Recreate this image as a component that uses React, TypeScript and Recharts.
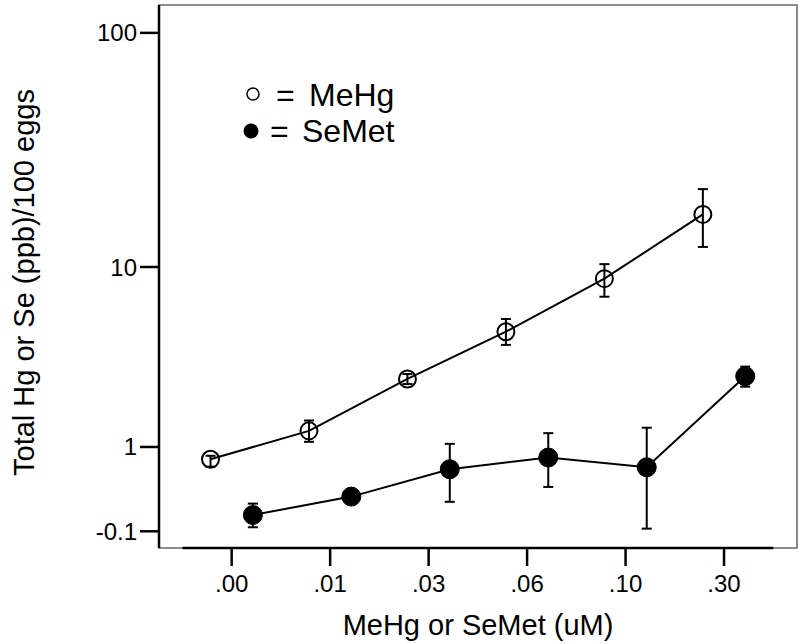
import React from 'react';
import {
  LineChart,
  Line,
  XAxis,
  YAxis,
  ErrorBar,
  ReferenceArea,
  ReferenceLine,
  Label,
} from 'recharts';

// Concentration categories on the x axis
const categories = ['.00', '.01', '.03', '.06', '.10', '.30'];

// MeHg (open circles): mean and error bounds, ppb / 100 eggs
const meHgMean = [0.78, 1.33, 2.81, 4.96, 8.85, 17.1];
const meHgLow = [0.66, 1.1, 2.63, 4.26, 7.3, 12.3];
const meHgHigh = [0.84, 1.57, 2.99, 5.72, 10.3, 22.0];

// SeMet (filled circles)
const seMetMean = [0.05, 0.25, 0.62, 0.81, 0.65, 2.91];
const seMetLow = [-0.065, 0.25, 0.19, 0.37, -0.077, 2.54];
const seMetHigh = [0.17, 0.25, 1.06, 1.28, 1.4, 3.28];

// y tick labels as printed on the original axis
const yTicks = [100, 10, 1, -0.1];

const FONT = '"Liberation Sans", Arial, sans-serif';
const DODGE = 0.215;

// the original axis is log10(value + 1)
const toAxis = (v: number) => Math.log10(v + 1);

const buildSeries = (mean: number[], low: number[], high: number[], shift: number) =>
  mean.map((m, i) => ({
    x: i + shift,
    y: toAxis(m),
    err: [toAxis(m) - toAxis(low[i]), toAxis(high[i]) - toAxis(m)],
  }));

const meHgData = buildSeries(meHgMean, meHgLow, meHgHigh, -DODGE);
const seMetData = buildSeries(seMetMean, seMetLow, seMetHigh, DODGE);

const X_DOMAIN: [number, number] = [-0.738, 5.741];
const Y_DOMAIN: [number, number] = [-0.1145, 2.119];

const yTickLabel = (v: number) => {
  const hit = yTicks.find((t) => Math.abs(toAxis(t) - v) < 1e-6);
  return hit === undefined ? '' : String(hit);
};

const OpenDot = (props: any) => (
  <circle key={`o-${props.index}`} cx={props.cx} cy={props.cy} r={8.5} fill="none" stroke="#000" strokeWidth={2} />
);

const FilledDot = (props: any) => (
  <circle key={`f-${props.index}`} cx={props.cx} cy={props.cy} r={9.5} fill="#000" stroke="#000" strokeWidth={1} />
);

export default function App() {
  return (
    <div style={{ position: 'absolute', left: 0, top: 0, width: 800, height: 644, background: '#fff' }}>
      <LineChart width={800} height={644} margin={{ top: 5, right: 3, bottom: 0, left: 0 }}>
        {/* plot frame */}
        <ReferenceArea
          x1={X_DOMAIN[0]}
          x2={X_DOMAIN[1]}
          y1={Y_DOMAIN[0]}
          y2={Y_DOMAIN[1]}
          fill="none"
          stroke="#666"
          strokeWidth={1.5}
          ifOverflow="visible"
        />
        <XAxis
          type="number"
          dataKey="x"
          domain={X_DOMAIN}
          ticks={[0, 1, 2, 3, 4, 5]}
          tickFormatter={(i: number) => categories[i] ?? ''}
          allowDataOverflow
          axisLine={false}
          tickLine={{ stroke: '#000', strokeWidth: 2.5 }}
          tickSize={18}
          tickMargin={9}
          height={96}
          tick={{ fill: '#000', fontSize: 24, fontFamily: FONT }}
        >
          <Label
            value="MeHg or SeMet (uM)"
            position="insideBottom"
            offset={9}
            style={{ fill: '#000', fontSize: 29, fontFamily: FONT }}
          />
        </XAxis>
        <YAxis
          type="number"
          domain={Y_DOMAIN}
          ticks={yTicks.map(toAxis)}
          tickFormatter={yTickLabel}
          allowDataOverflow
          axisLine={{ stroke: '#000', strokeWidth: 2.5 }}
          tickLine={{ stroke: '#000', strokeWidth: 2.5 }}
          tickSize={19}
          tickMargin={3}
          width={159}
          tick={{ fill: '#000', fontSize: 24, fontFamily: FONT }}
        >
          <Label
            content={({ viewBox }: any) => {
              const cx = 34;
              const cy = viewBox.y + viewBox.height / 2 + 6;
              return (
                <text
                  x={cx}
                  y={cy}
                  transform={`rotate(-90 ${cx} ${cy})`}
                  textAnchor="middle"
                  fill="#000"
                  fontSize={29}
                  fontFamily={FONT}
                >
                  Total Hg or Se (ppb)/100 eggs
                </text>
              );
            }}
          />
        </YAxis>
        {/* x axis line spans only the category bands */}
        <ReferenceLine
          segment={[
            { x: -0.5, y: Y_DOMAIN[0] },
            { x: 5.5, y: Y_DOMAIN[0] },
          ]}
          stroke="#000"
          strokeWidth={2.5}
          ifOverflow="visible"
        />
        <Line
          data={meHgData}
          dataKey="y"
          stroke="#000"
          strokeWidth={2}
          dot={OpenDot}
          activeDot={false}
          isAnimationActive={false}
        >
          <ErrorBar dataKey="err" direction="y" width={5} stroke="#000" strokeWidth={2} />
        </Line>
        <Line
          data={seMetData}
          dataKey="y"
          stroke="#000"
          strokeWidth={2}
          dot={FilledDot}
          activeDot={false}
          isAnimationActive={false}
        >
          <ErrorBar dataKey="err" direction="y" width={5} stroke="#000" strokeWidth={2} />
        </Line>
      </LineChart>

      {/* legend */}
      <svg
        width={800}
        height={644}
        style={{ position: 'absolute', left: 0, top: 0, pointerEvents: 'none' }}
      >
        <circle cx={253} cy={94} r={6} fill="none" stroke="#000" strokeWidth={1.5} />
        <text y={106} fill="#000" fontSize={32} fontFamily={FONT}>
          <tspan x={276}>=</tspan>
          <tspan x={309}>MeHg</tspan>
        </text>
        <circle cx={251} cy={131} r={7.5} fill="#000" />
        <text y={142} fill="#000" fontSize={32} fontFamily={FONT}>
          <tspan x={270}>=</tspan>
          <tspan x={302}>SeMet</tspan>
        </text>
      </svg>
    </div>
  );
}
